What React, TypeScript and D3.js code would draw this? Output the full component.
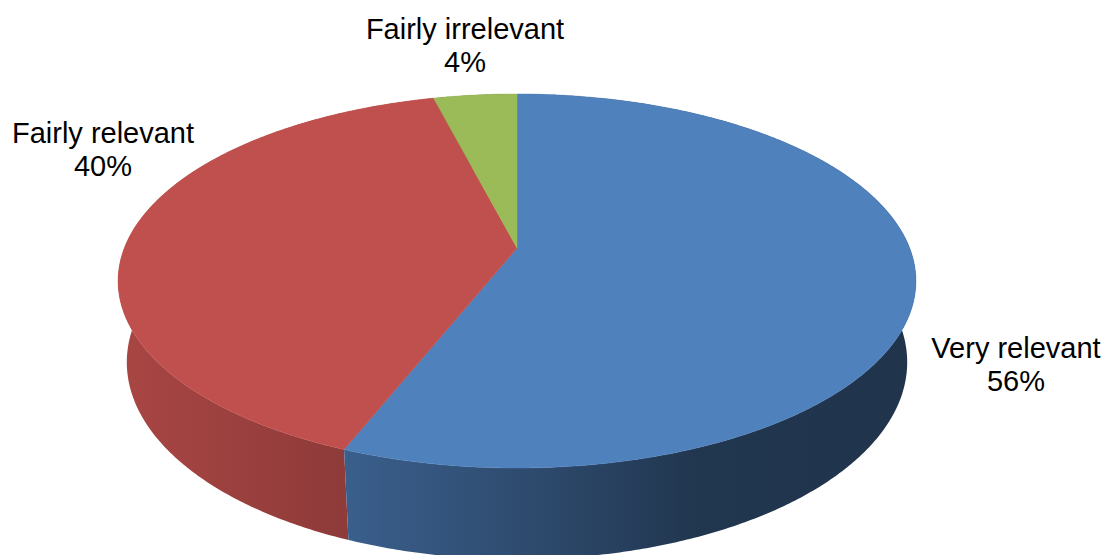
import React from 'react';
import * as d3 from 'd3';

// Survey answers: share of respondents per category (percent)
const categories = ['Very relevant', 'Fairly relevant', 'Fairly irrelevant'];
const shares = [56, 40, 4];
const sliceColors = ['#4f81bd', '#c0504d', '#9bbb59'];

const WIDTH = 1105;
const HEIGHT = 555;

// Perspective view of a tilted disc
const CX = 517;
const CY = 248;
const FOCAL = 1973;
const RADIUS = 0.199;
const THICKNESS = 0.0468;
const SIN_T = 0.4614;
const COS_T = Math.sqrt(1 - SIN_T * SIN_T);

// s = 0 top face, s = 1 bottom rim
function project(theta: number, r: number, s: number): [number, number] {
  const u = r * RADIUS * Math.sin(theta);
  const v = -r * RADIUS * Math.cos(theta);
  const yc = v * SIN_T + s * THICKNESS * COS_T;
  const zc = 1 - v * COS_T + s * THICKNESS * SIN_T;
  return [CX + (FOCAL * u) / zc, CY + (FOCAL * yc) / zc];
}

// Side lighting: brightness factor across the screen (light from the left)
const shadeX = [118, 345, 517, 700, 916];
const shadeF = [0.88, 0.74, 0.59, 0.42, 0.4];

const labelPos: [number, number][] = [
  [1016, 358],
  [103, 143],
  [465, 39],
];

function arcAngles(a0: number, a1: number): number[] {
  const n = Math.max(2, Math.ceil((a1 - a0) / (Math.PI / 360)));
  return d3.range(n + 1).map((i) => a0 + ((a1 - a0) * i) / n);
}

export default function App() {
  const arcs = d3
    .pie<number>()
    .sort(null)
    .value((d) => d)(shares);

  const line = d3.line();

  const walls = arcs
    .map((a, i) => {
      const thetas = arcAngles(a.startAngle, a.endAngle);
      const top = thetas.map((t) => project(t, 1, 0));
      const bottom = thetas.map((t) => project(t, 1, 1)).reverse();
      const mid = (a.startAngle + a.endAngle) / 2;
      return { i, d: line([...top, ...bottom]) + 'Z', depth: -Math.cos(mid) };
    })
    .sort((p, q) => p.depth - q.depth);

  const tops = arcs.map((a, i) => {
    const thetas = arcAngles(a.startAngle, a.endAngle);
    const pts = [project(0, 0, 0), ...thetas.map((t) => project(t, 1, 0))];
    return { i, d: line(pts) + 'Z' };
  });

  const shadeColor = (base: string, f: number) => {
    const c = d3.rgb(base);
    return d3.rgb(c.r * f, c.g * f, c.b * f).formatHex();
  };

  return (
    <svg
      width={WIDTH}
      height={HEIGHT}
      style={{ position: 'absolute', left: 0, top: 0, background: '#ffffff' }}
    >
      <defs>
        {sliceColors.map((col, i) => (
          <linearGradient
            key={i}
            id={`side-${i}`}
            gradientUnits="userSpaceOnUse"
            x1={shadeX[0]}
            x2={shadeX[shadeX.length - 1]}
            y1={0}
            y2={0}
          >
            {shadeX.map((x, k) => (
              <stop
                key={k}
                offset={(x - shadeX[0]) / (shadeX[shadeX.length - 1] - shadeX[0])}
                stopColor={shadeColor(col, shadeF[k])}
              />
            ))}
          </linearGradient>
        ))}
      </defs>
      <g>
        {walls.map((w) => (
          <path key={`w${w.i}`} d={w.d} fill={`url(#side-${w.i})`} />
        ))}
        {tops.map((t) => (
          <path
            key={`t${t.i}`}
            d={t.d}
            fill={sliceColors[t.i]}
            stroke={sliceColors[t.i]}
            strokeWidth={0.5}
            strokeLinejoin="round"
          />
        ))}
      </g>
      <g
        fontFamily="'Liberation Sans', Arial, sans-serif"
        fontSize={29}
        fill="#000000"
        textAnchor="middle"
      >
        {categories.map((c, i) => (
          <text key={c} x={labelPos[i][0]} y={labelPos[i][1]}>
            <tspan x={labelPos[i][0]}>{c}</tspan>
            <tspan x={labelPos[i][0]} dy={33}>{`${shares[i]}%`}</tspan>
          </text>
        ))}
      </g>
    </svg>
  );
}
